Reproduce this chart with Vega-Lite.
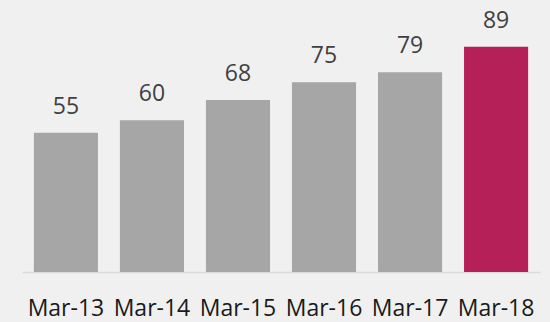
{
  "$schema": "https://vega.github.io/schema/vega-lite/v6.json",
  "width": 518,
  "height": 253,
  "padding": {"left": 22, "top": 19, "right": 10, "bottom": 50},
  "autosize": {"type": "none"},
  "background": "#F0F0F0",
  "config": {
    "view": {"stroke": null},
    "font": "Open Sans"
  },
  "data": {
    "values": [
      {"period": "Mar-13", "value": 55, "latest": false},
      {"period": "Mar-14", "value": 60, "latest": false},
      {"period": "Mar-15", "value": 68, "latest": false},
      {"period": "Mar-16", "value": 75, "latest": false},
      {"period": "Mar-17", "value": 79, "latest": false},
      {"period": "Mar-18", "value": 89, "latest": true}
    ]
  },
  "encoding": {
    "x": {
      "field": "period",
      "type": "ordinal",
      "sort": null,
      "scale": {"paddingInner": 0.255, "paddingOuter": 0.138},
      "axis": {
        "title": null,
        "labelAngle": 0,
        "labelFont": "Open Sans",
        "labelFontSize": 23,
        "labelColor": "#1A1A1A",
        "labelBaseline": "alphabetic",
        "labelPadding": 43,
        "labelOverlap": false,
        "ticks": false,
        "tickSize": 0,
        "domainColor": "#D9D9D9",
        "domainWidth": 1.5,
        "grid": false
      }
    },
    "y": {
      "field": "value",
      "type": "quantitative",
      "scale": {"domain": [0, 100]},
      "axis": null
    }
  },
  "layer": [
    {
      "mark": {"type": "bar"},
      "encoding": {
        "color": {
          "field": "latest",
          "type": "nominal",
          "scale": {"domain": [false, true], "range": ["#A6A6A6", "#B52058"]},
          "legend": null
        }
      }
    },
    {
      "mark": {
        "type": "text",
        "baseline": "alphabetic",
        "dy": -19,
        "fontSize": 23,
        "font": "Open Sans",
        "color": "#404040"
      },
      "encoding": {
        "text": {"field": "value", "type": "quantitative"}
      }
    }
  ]
}
